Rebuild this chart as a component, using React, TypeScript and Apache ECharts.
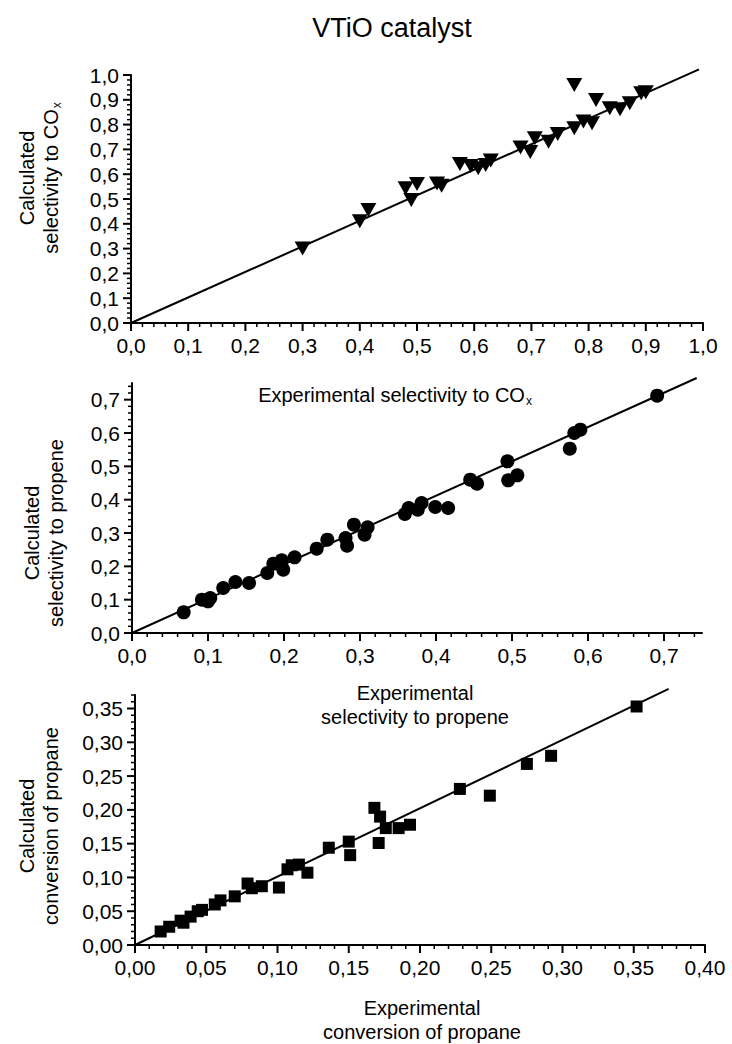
import React, { useEffect, useRef } from "react";
import * as echarts from "echarts";

// Panel 1: selectivity to COx (experimental vs calculated)
const coxExp = [0.30, 0.40, 0.415, 0.48, 0.50, 0.49, 0.535, 0.543, 0.575, 0.594, 0.607, 0.62, 0.629, 0.681, 0.698, 0.706, 0.73, 0.746, 0.775, 0.791, 0.806, 0.775, 0.813, 0.837, 0.855, 0.872, 0.892, 0.90];
const coxCalc = [0.30, 0.41, 0.456, 0.543, 0.56, 0.496, 0.563, 0.553, 0.641, 0.633, 0.624, 0.637, 0.655, 0.708, 0.69, 0.745, 0.731, 0.762, 0.785, 0.812, 0.805, 0.96, 0.899, 0.866, 0.862, 0.886, 0.926, 0.93];

// Panel 2: selectivity to propene
const propExp = [0.068, 0.092, 0.103, 0.10, 0.12, 0.136, 0.154, 0.178, 0.186, 0.197, 0.199, 0.214, 0.243, 0.257, 0.281, 0.283, 0.292, 0.306, 0.31, 0.359, 0.364, 0.376, 0.381, 0.399, 0.416, 0.445, 0.454, 0.494, 0.495, 0.507, 0.576, 0.582, 0.59, 0.691];
const propCalc = [0.062, 0.10, 0.105, 0.095, 0.135, 0.153, 0.15, 0.18, 0.208, 0.218, 0.19, 0.227, 0.253, 0.28, 0.285, 0.262, 0.325, 0.295, 0.317, 0.357, 0.375, 0.37, 0.39, 0.378, 0.375, 0.46, 0.448, 0.515, 0.458, 0.473, 0.553, 0.60, 0.61, 0.712];

// Panel 3: conversion of propane
const convExp = [0.018, 0.024, 0.032, 0.034, 0.039, 0.044, 0.047, 0.056, 0.06, 0.07, 0.079, 0.082, 0.089, 0.101, 0.107, 0.11, 0.115, 0.121, 0.136, 0.15, 0.151, 0.168, 0.172, 0.171, 0.176, 0.185, 0.193, 0.228, 0.249, 0.275, 0.292, 0.352];
const convCalc = [0.02, 0.027, 0.036, 0.033, 0.042, 0.05, 0.052, 0.06, 0.066, 0.072, 0.091, 0.084, 0.087, 0.085, 0.112, 0.118, 0.119, 0.107, 0.144, 0.153, 0.133, 0.203, 0.19, 0.151, 0.173, 0.173, 0.178, 0.231, 0.221, 0.268, 0.28, 0.353];

// Parity line end points [exp, calc]
const coxLine = [[0, 0], [0.993, 1.023]];
const propLine = [[0, 0], [0.743, 0.765]];
const convLine = [[0, 0], [0.3745, 0.379]];

// Axis ranges and tick steps: [max, major step]
const coxAxis = [1.0, 0.1];
const propAxis = [0.75, 0.1];
const convXAxis = [0.4, 0.05];
const convYAxis = [0.37, 0.05];

const FONT = "'Liberation Sans', Arial, sans-serif";
const BLACK = "#000";
const MAJOR_LEN = 8;
const MINOR_LEN = 4;

function fmt(d: number) {
  return (v: number) => v.toFixed(d).replace(".", ",");
}

function makeAxis(range: number[], decimals: number, showMax: boolean) {
  return {
    type: "value",
    min: 0,
    max: range[0],
    interval: range[1],
    splitLine: { show: false },
    axisLine: { show: true, onZero: false, lineStyle: { color: BLACK, width: 2 } },
    axisTick: { show: false },
    minorTick: { show: false },
    axisLabel: {
      show: true,
      showMaxLabel: showMax,
      formatter: fmt(decimals),
      color: BLACK,
      fontFamily: FONT,
      fontSize: 21,
      margin: 12,
    },
  };
}

// tick marks along an axis: [value, length, axisFlag(0 = x, 1 = y)]
function tickMarks(range: number[], flag: number) {
  const out: number[][] = [];
  const minor = range[1] / 5;
  const n = Math.floor(range[0] / minor + 1e-6);
  for (let i = 0; i <= n; i++) {
    const v = Math.round(i * minor * 1e6) / 1e6;
    out.push([v, i % 5 === 0 ? MAJOR_LEN : MINOR_LEN, flag]);
  }
  return out;
}

function zip(a: number[], b: number[]) {
  return a.map((v, i) => [v, b[i]]);
}

const sub = { fontSize: 12, fontFamily: FONT, fill: BLACK, verticalAlign: "bottom", padding: [0, 0, 0, 1] };

function txt(x: number, y: number, text: string, size: number, rotate = false) {
  return {
    type: "text",
    x,
    y,
    rotation: rotate ? Math.PI / 2 : 0,
    style: {
      text,
      fontSize: size,
      fontFamily: FONT,
      fill: BLACK,
      align: "center",
      verticalAlign: "middle",
      lineHeight: 24,
      rich: { sub },
    },
  };
}

type PanelCfg = {
  grid: any;
  xRange: number[];
  yRange: number[];
  dec: number;
  showMax: boolean[];
  line: number[][];
  pts: number[][];
  symbol: string;
  rotate: number;
  size: any;
  texts: any[];
};

const panels: PanelCfg[] = [
  {
    grid: { left: 131, top: 75, width: 572, height: 248 },
    xRange: coxAxis, yRange: coxAxis, dec: 1, showMax: [true, true],
    line: coxLine, pts: zip(coxExp, coxCalc),
    symbol: "triangle", rotate: 180, size: [16, 14],
    texts: [
      txt(392, 28, "VTiO catalyst", 27),
      txt(39, 178, "Calculated\nselectivity to CO{sub|x}", 20, true),
      txt(395, 395, "Experimental selectivity to CO{sub|x}", 20),
    ],
  },
  {
    grid: { left: 132, top: 383, width: 570, height: 250 },
    xRange: propAxis, yRange: propAxis, dec: 1, showMax: [false, false],
    line: propLine, pts: zip(propExp, propCalc),
    symbol: "circle", rotate: 0, size: 14,
    texts: [
      txt(44, 533, "Calculated\nselectivity to propene", 20, true),
      txt(415, 705, "Experimental\nselectivity to propene", 20),
    ],
  },
  {
    grid: { left: 135, top: 695, width: 570, height: 250 },
    xRange: convXAxis, yRange: convYAxis, dec: 2, showMax: [true, false],
    line: convLine, pts: zip(convExp, convCalc),
    symbol: "rect", rotate: 0, size: 12,
    texts: [
      txt(39, 826, "Calculated\nconversion of propane", 20, true),
      txt(422, 1020, "Experimental\nconversion of propane", 20),
    ],
  },
];

function renderTick(params: any, api: any) {
  const v = api.value(0);
  const len = api.value(1);
  const flag = api.value(2);
  const lw = len > 5 ? 2 : 1.5;
  if (flag === 0) {
    const p = api.coord([v, 0]);
    return {
      type: "line",
      shape: { x1: p[0], y1: p[1], x2: p[0], y2: p[1] + len },
      style: { stroke: BLACK, lineWidth: lw },
    };
  }
  const p = api.coord([0, v]);
  return {
    type: "line",
    shape: { x1: p[0], y1: p[1], x2: p[0] - len, y2: p[1] },
    style: { stroke: BLACK, lineWidth: lw },
  };
}

function Panel({ cfg }: { cfg: PanelCfg }) {
  const ref = useRef<HTMLDivElement>(null);
  useEffect(() => {
    if (!ref.current) return;
    const chart = echarts.init(ref.current, undefined, { renderer: "svg" });
    const ticks = tickMarks(cfg.xRange, 0).concat(tickMarks(cfg.yRange, 1));
    const option: any = {
      animation: false,
      backgroundColor: "transparent",
      grid: cfg.grid,
      xAxis: makeAxis(cfg.xRange, cfg.dec, cfg.showMax[0]),
      yAxis: makeAxis(cfg.yRange, cfg.dec, cfg.showMax[1]),
      series: [
        {
          type: "custom",
          data: ticks,
          clip: false,
          silent: true,
          renderItem: renderTick,
          z: 4,
        },
        { type: "line", data: cfg.line, symbol: "none", clip: false, lineStyle: { color: BLACK, width: 2 } },
        {
          type: "scatter",
          data: cfg.pts,
          symbol: cfg.symbol,
          symbolRotate: cfg.rotate,
          symbolSize: cfg.size,
          itemStyle: { color: BLACK, opacity: 1 },
          z: 3,
        },
      ],
      graphic: cfg.texts,
    };
    chart.setOption(option);
    return () => chart.dispose();
  }, [cfg]);
  return (
    <div
      ref={ref}
      style={{ position: "absolute", left: 0, top: 0, width: 732, height: 1044 }}
    />
  );
}

export default function App() {
  return (
    <div style={{ position: "absolute", left: 0, top: 0, width: 732, height: 1044, background: "#fff" }}>
      {panels.map((p, i) => (
        <Panel key={i} cfg={p} />
      ))}
    </div>
  );
}
